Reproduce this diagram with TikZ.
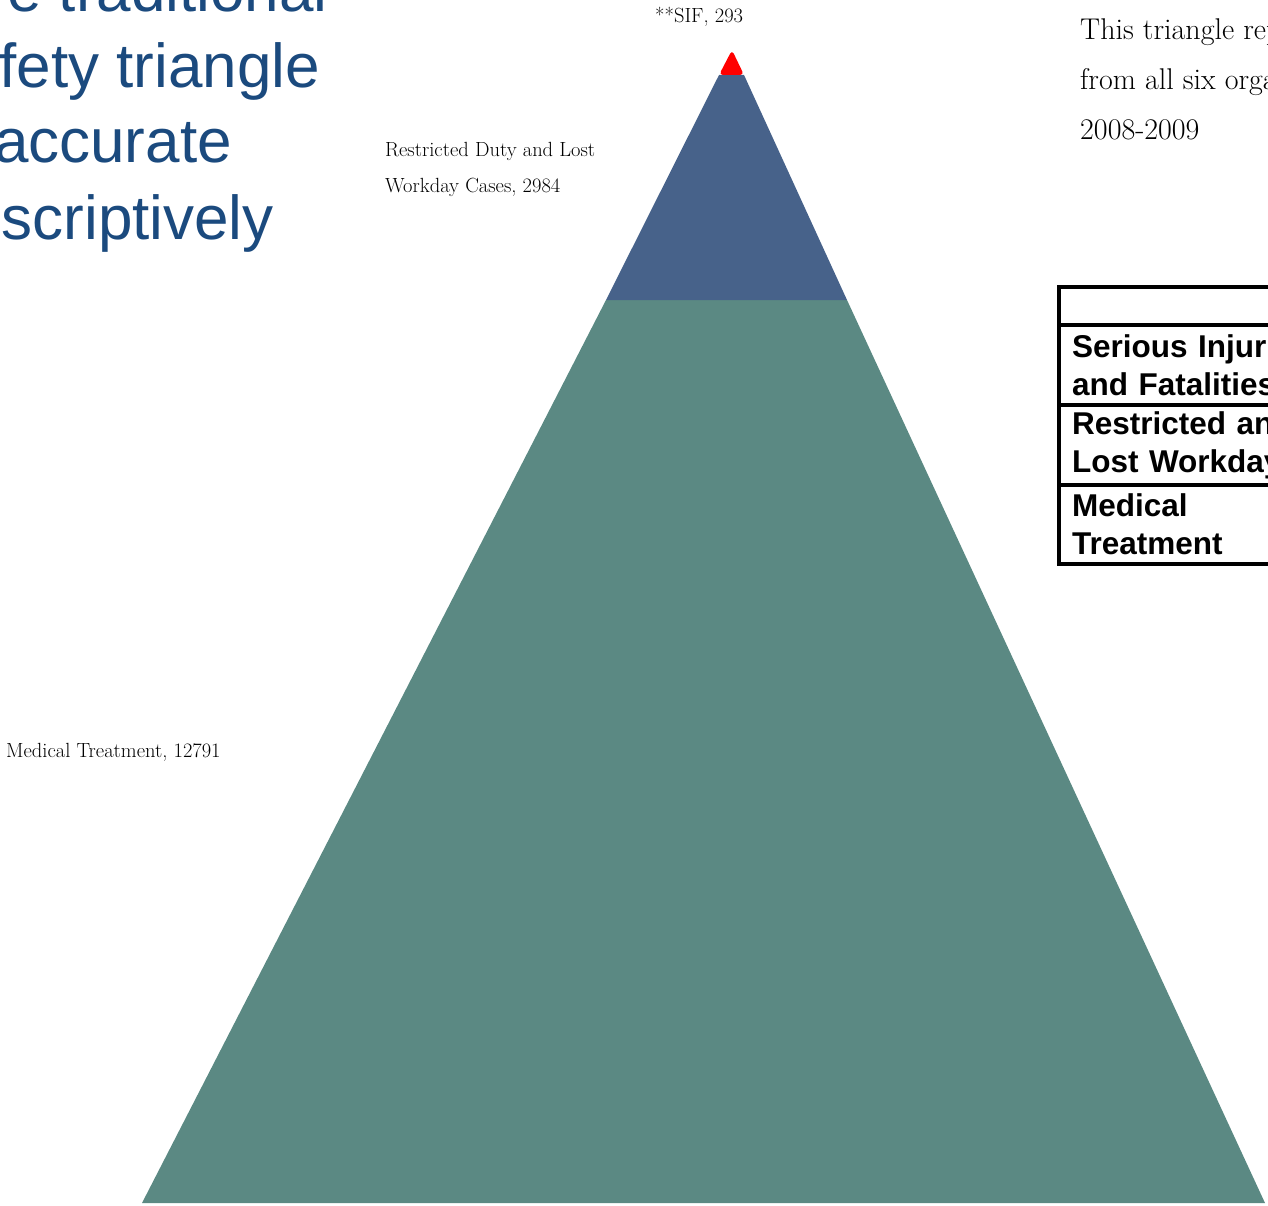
\documentclass[tikz,border=0pt]{standalone}
\usepackage{fontspec}
\newfontfamily\arialfont{Liberation Sans}
\usetikzlibrary{positioning}
\definecolor{titleblue}{HTML}{1B4A7E}
\definecolor{rdband}{HTML}{47628A}
\definecolor{mtband}{HTML}{5B8983}
\definecolor{sifred}{HTML}{FF0000}

\begin{document}
\begin{tikzpicture}[
    x=1pt, y=-1pt,
    title/.style={
        font=\arialfont\fontsize{62}{76}\selectfont,
        text=titleblue,
        inner sep=0pt,
        anchor=base east
    },
    lbl/.style={
        font=\fontsize{20.5}{36}\selectfont,
        align=left,
        inner sep=0pt,
        anchor=base west
    },
    note/.style={
        font=\fontsize{30}{50}\selectfont,
        align=left,
        inner sep=0pt,
        anchor=base west
    },
    cell/.style={
        draw,
        line width=3.5pt,
        outer sep=0pt,
        text width=300pt,
        align=left,
        inner xsep=13pt,
        inner ysep=0pt,
        minimum height=80pt,
        font=\arialfont\bfseries\fontsize{31.5}{38}\selectfont
    }
]

\useasboundingbox (0,0) rectangle (1268,1206);
\clip (0,0) rectangle (1268,1206);

% triangle bands
\fill[mtband] (606,300) -- (847,300) -- (1265,1203) -- (142,1203) -- cycle;
\fill[rdband] (719,75) -- (744,75) -- (847,300) -- (606,300) -- cycle;
\fill[sifred, rounded corners=4pt] (719,75) -- (732,50) -- (744,75) -- cycle;

% title
\node[title] (t1) at (328,12) {e traditional};
\node[title] (t2) at (320,88) {fety triangle};
\node[title] (t3) at (232,163) {accurate};
\node[title] (t4) at (274,240) {scriptively};

% band labels (base = last line)
\node[lbl] (siflbl) at (655,23) {**SIF, 293};
\node[lbl] (rdlbl) at (385,193) {Restricted Duty and Lost\\Workday Cases, 2984};
\node[lbl] (mtlbl) at (6,757) {Medical Treatment, 12791};

\node[note] (note) at (1080,140) {This triangle represents\\from all six organizations\\2008-2009};

% table
\node[cell, anchor=north west, minimum height=38pt] (hdr) at (1059,287) {};
\node[cell, below=0pt of hdr] (sifrow) {Serious Injuries\\and Fatalities};
\node[cell, below=0pt of sifrow] (rdrow) {Restricted and\\Lost Workdays};
\node[cell, below=0pt of rdrow, minimum height=79pt] (mtrow) {Medical\\Treatment};

\end{tikzpicture}
\end{document}
